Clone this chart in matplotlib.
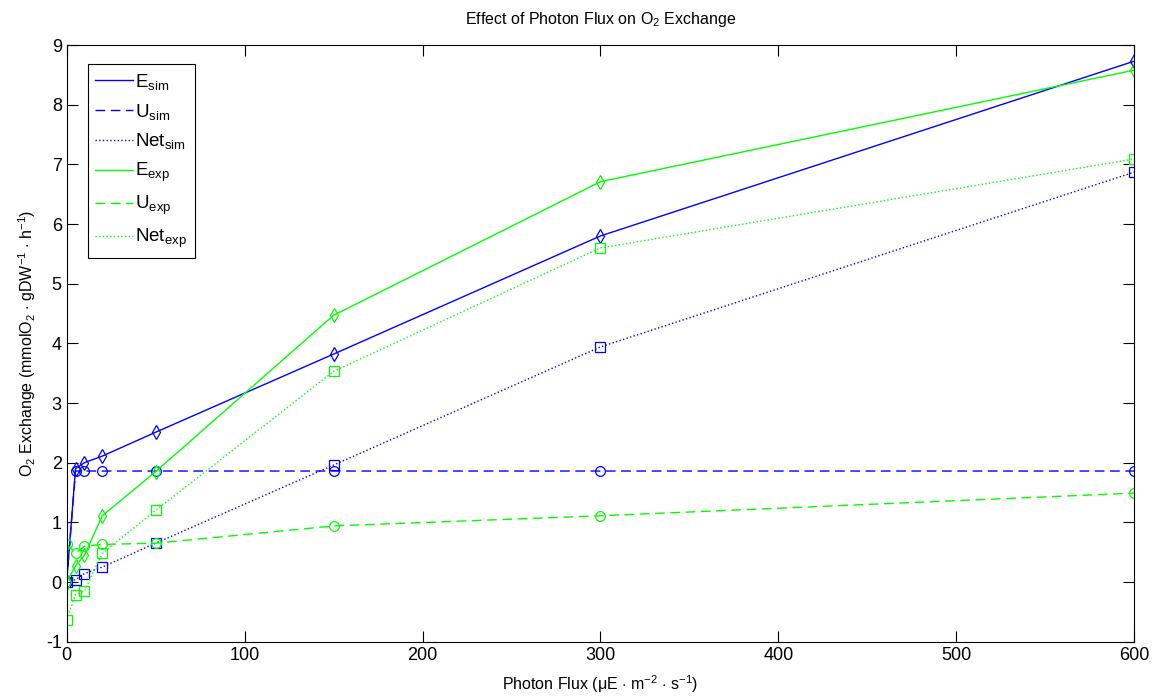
import numpy as np
import matplotlib
matplotlib.use('Agg')
import matplotlib.pyplot as plt

plt.rcParams['font.family'] = ['Liberation Sans', 'DejaVu Sans']
plt.rcParams['mathtext.fontset'] = 'custom'
plt.rcParams['mathtext.rm'] = 'Liberation Sans'
plt.rcParams['mathtext.it'] = 'Liberation Sans'
plt.rcParams['mathtext.default'] = 'rm'
plt.rcParams['axes.unicode_minus'] = False

# Photon flux levels (uE m^-2 s^-1)
flux = [0, 5, 10, 20, 50, 150, 300, 600]

# simulated O2 exchange
E_sim = [0.0, 1.90, 2.00, 2.11, 2.51, 3.82, 5.80, 8.73]
U_sim = [0.0, 1.86, 1.86, 1.86, 1.86, 1.86, 1.86, 1.86]
Net_sim = [0.0, 0.04, 0.14, 0.25, 0.65, 1.96, 3.94, 6.87]

# experimental O2 exchange
E_exp = [0.0, 0.27, 0.45, 1.11, 1.85, 4.47, 6.71, 8.58]
U_exp = [0.63, 0.48, 0.60, 0.63, 0.65, 0.94, 1.11, 1.49]
Net_exp = [-0.63, -0.21, -0.15, 0.48, 1.20, 3.53, 5.60, 7.09]

xticks = [0, 100, 200, 300, 400, 500, 600]
yticks = [-1, 0, 1, 2, 3, 4, 5, 6, 7, 8, 9]

blue = (0, 0, 1)
green = (0, 1, 0)

fig = plt.figure(figsize=(11.59, 6.98), dpi=100)
ax = fig.add_axes([0.0575, 0.0807, 0.9212, 0.8548])

mk = dict(markersize=7, markerfacecolor='none', markeredgewidth=0.9, linewidth=1.0)
ax.plot(flux, E_sim, '-d', color=blue, label=r'E$_{sim}$', **mk)
ax.plot(flux, U_sim, '--o', color=blue, label=r'U$_{sim}$', dashes=(7, 4), **mk)
ax.plot(flux, Net_sim, ':s', color=blue, label=r'Net$_{sim}$', **mk)
ax.plot(flux, E_exp, '-d', color=green, label=r'E$_{exp}$', **mk)
ax.plot(flux, U_exp, '--o', color=green, label=r'U$_{exp}$', dashes=(7, 4), **mk)
ax.plot(flux, Net_exp, ':s', color=green, label=r'Net$_{exp}$', **mk)

ax.set_xlim(0, 600)
ax.set_ylim(-1, 9)
ax.set_xticks(xticks)
ax.set_yticks(yticks)
ax.tick_params(direction='in', length=8, width=0.8, labelsize=13, top=True, right=True)
for s in ax.spines.values():
    s.set_linewidth(0.8)

ax.set_title(r'Effect of Photon Flux on O$_2$ Exchange', fontsize=11.5, pad=15)
ax.set_xlabel(r'Photon Flux ($\mu$E $\cdot$ m$^{-2}$ $\cdot$ s$^{-1}$)', fontsize=11.5, labelpad=7)
ax.set_ylabel(r'O$_2$ Exchange (mmolO$_2$ $\cdot$ gDW$^{-1}$ $\cdot$ h$^{-1}$)', fontsize=11.5, labelpad=6)

leg = ax.legend(loc='upper left', bbox_to_anchor=(0.0197, 0.9676), borderaxespad=0,
                fontsize=13.5, fancybox=False, edgecolor='black', framealpha=1,
                handlelength=2.0, handletextpad=0.15, labelspacing=0.52, borderpad=0.4)
leg.get_frame().set_linewidth(0.8)
for h in leg.get_lines():
    h.set_marker('')

fig.savefig('out.png', dpi=100)
